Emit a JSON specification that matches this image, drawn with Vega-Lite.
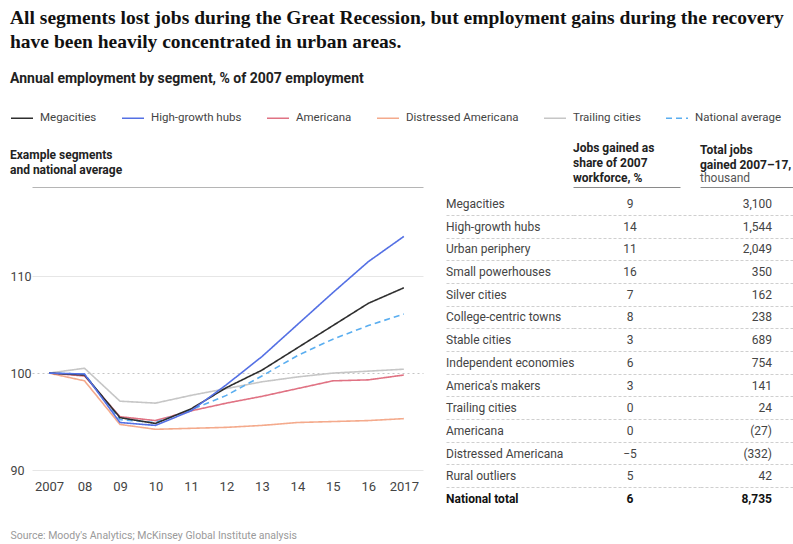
{
  "$schema": "https://vega.github.io/schema/vega-lite/v6.json",
  "padding": {"left": 10, "top": 7, "right": 0, "bottom": 2},
  "background": "white",
  "config": {"font": "Roboto", "view": {"stroke": null}},
  "title": {
    "text": ["All segments lost jobs during the Great Recession, but employment gains during the recovery", "have been heavily concentrated in urban areas."],
    "subtitle": "Annual employment by segment, % of 2007 employment",
    "anchor": "start",
    "font": "Liberation Serif",
    "fontSize": 19.5,
    "fontWeight": "bold",
    "color": "#111111",
    "lineHeight": 24,
    "subtitleFont": "Roboto",
    "subtitleFontSize": 14,
    "subtitleFontWeight": "bold",
    "subtitleColor": "#222222",
    "subtitlePadding": 20,
    "offset": 19
  },
  "datasets": {
    "lines": [
      {"segment": "Trailing cities", "year": 2007, "value": 100},
      {"segment": "Trailing cities", "year": 2008, "value": 100.5},
      {"segment": "Trailing cities", "year": 2009, "value": 97.1},
      {"segment": "Trailing cities", "year": 2010, "value": 96.9},
      {"segment": "Trailing cities", "year": 2011, "value": 97.7},
      {"segment": "Trailing cities", "year": 2012, "value": 98.4},
      {"segment": "Trailing cities", "year": 2013, "value": 99.1},
      {"segment": "Trailing cities", "year": 2014, "value": 99.6},
      {"segment": "Trailing cities", "year": 2015, "value": 100.0},
      {"segment": "Trailing cities", "year": 2016, "value": 100.2},
      {"segment": "Trailing cities", "year": 2017, "value": 100.4},
      {"segment": "Distressed Americana", "year": 2007, "value": 100},
      {"segment": "Distressed Americana", "year": 2008, "value": 99.2},
      {"segment": "Distressed Americana", "year": 2009, "value": 94.7},
      {"segment": "Distressed Americana", "year": 2010, "value": 94.2},
      {"segment": "Distressed Americana", "year": 2011, "value": 94.3},
      {"segment": "Distressed Americana", "year": 2012, "value": 94.4},
      {"segment": "Distressed Americana", "year": 2013, "value": 94.6},
      {"segment": "Distressed Americana", "year": 2014, "value": 94.9},
      {"segment": "Distressed Americana", "year": 2015, "value": 95.0},
      {"segment": "Distressed Americana", "year": 2016, "value": 95.1},
      {"segment": "Distressed Americana", "year": 2017, "value": 95.3},
      {"segment": "Americana", "year": 2007, "value": 100},
      {"segment": "Americana", "year": 2008, "value": 99.7},
      {"segment": "Americana", "year": 2009, "value": 95.5},
      {"segment": "Americana", "year": 2010, "value": 95.1},
      {"segment": "Americana", "year": 2011, "value": 96.1},
      {"segment": "Americana", "year": 2012, "value": 96.9},
      {"segment": "Americana", "year": 2013, "value": 97.6},
      {"segment": "Americana", "year": 2014, "value": 98.4},
      {"segment": "Americana", "year": 2015, "value": 99.2},
      {"segment": "Americana", "year": 2016, "value": 99.3},
      {"segment": "Americana", "year": 2017, "value": 99.8},
      {"segment": "National average", "year": 2007, "value": 100},
      {"segment": "National average", "year": 2008, "value": 99.9},
      {"segment": "National average", "year": 2009, "value": 95.2},
      {"segment": "National average", "year": 2010, "value": 94.9},
      {"segment": "National average", "year": 2011, "value": 96.2},
      {"segment": "National average", "year": 2012, "value": 97.7},
      {"segment": "National average", "year": 2013, "value": 99.7},
      {"segment": "National average", "year": 2014, "value": 101.8},
      {"segment": "National average", "year": 2015, "value": 103.5},
      {"segment": "National average", "year": 2016, "value": 104.9},
      {"segment": "National average", "year": 2017, "value": 106.1},
      {"segment": "Megacities", "year": 2007, "value": 100},
      {"segment": "Megacities", "year": 2008, "value": 99.8},
      {"segment": "Megacities", "year": 2009, "value": 95.4},
      {"segment": "Megacities", "year": 2010, "value": 94.8},
      {"segment": "Megacities", "year": 2011, "value": 96.3},
      {"segment": "Megacities", "year": 2012, "value": 98.5},
      {"segment": "Megacities", "year": 2013, "value": 100.3},
      {"segment": "Megacities", "year": 2014, "value": 102.6},
      {"segment": "Megacities", "year": 2015, "value": 104.9},
      {"segment": "Megacities", "year": 2016, "value": 107.2},
      {"segment": "Megacities", "year": 2017, "value": 108.8},
      {"segment": "High-growth hubs", "year": 2007, "value": 100},
      {"segment": "High-growth hubs", "year": 2008, "value": 99.9},
      {"segment": "High-growth hubs", "year": 2009, "value": 94.9},
      {"segment": "High-growth hubs", "year": 2010, "value": 94.6},
      {"segment": "High-growth hubs", "year": 2011, "value": 96.1},
      {"segment": "High-growth hubs", "year": 2012, "value": 98.8},
      {"segment": "High-growth hubs", "year": 2013, "value": 101.7},
      {"segment": "High-growth hubs", "year": 2014, "value": 105.0},
      {"segment": "High-growth hubs", "year": 2015, "value": 108.3},
      {"segment": "High-growth hubs", "year": 2016, "value": 111.5},
      {"segment": "High-growth hubs", "year": 2017, "value": 114.1}
    ],
    "table": [
      {"segment": "Megacities", "share": 9, "total": 3100},
      {"segment": "High-growth hubs", "share": 14, "total": 1544},
      {"segment": "Urban periphery", "share": 11, "total": 2049},
      {"segment": "Small powerhouses", "share": 16, "total": 350},
      {"segment": "Silver cities", "share": 7, "total": 162},
      {"segment": "College-centric towns", "share": 8, "total": 238},
      {"segment": "Stable cities", "share": 3, "total": 689},
      {"segment": "Independent economies", "share": 6, "total": 754},
      {"segment": "America's makers", "share": 3, "total": 141},
      {"segment": "Trailing cities", "share": 0, "total": 24},
      {"segment": "Americana", "share": 0, "total": -27},
      {"segment": "Distressed Americana", "share": -5, "total": -332},
      {"segment": "Rural outliers", "share": 5, "total": 42},
      {"segment": "National total", "share": 6, "total": 8735}
    ]
  },
  "bounds": "flush",
  "spacing": 23,
  "hconcat": [
    {
      "width": 391,
      "height": 283,
      "title": {"text": ["Example segments", "and national average"], "anchor": "start", "fontSize": 12, "fontWeight": "bold", "color": "#222222", "lineHeight": 15, "offset": 10},
      "data": {"name": "lines"},
      "mark": {"type": "line", "strokeWidth": 1.6},
      "encoding": {
        "x": {
          "field": "year", "type": "quantitative",
          "scale": {"domain": [2006.52, 2017.54], "nice": false, "zero": false},
          "axis": {
            "values": [2007, 2008, 2009, 2010, 2011, 2012, 2013, 2014, 2015, 2016, 2017],
            "format": "d",
            "labelExpr": "(datum.value == 2007 || datum.value == 2017) ? datum.label : substring(datum.label, 2)",
            "domain": false, "ticks": false, "grid": false,
            "labelFontSize": 13, "labelColor": "#444444", "labelPadding": 10, "labelFlush": false, "labelOverlap": false,
            "title": "Source: Moody's Analytics; McKinsey Global Institute analysis",
            "titleAnchor": "start", "titleAlign": "left", "titleX": -22, "titleY": 65, "titleBaseline": "middle",
            "titleFontSize": 10.5, "titleFontWeight": "normal", "titleColor": "#9a9a9a"
          }
        },
        "y": {
          "field": "value", "type": "quantitative",
          "scale": {"domain": [90, 119.2], "nice": false, "zero": false},
          "axis": {
            "values": [90, 100, 110, 119.2],
            "format": "d",
            "labelExpr": "datum.value > 115 ? '' : datum.label",
            "domain": false, "ticks": false, "title": null,
            "labelFontSize": 12.5, "labelColor": "#444444", "labelPadding": 22, "labelAlign": "left",
            "grid": true, "gridWidth": 1,
            "gridColor": {"condition": [{"test": "datum.value > 115", "value": "#b5b5b5"}, {"test": "datum.value === 100", "value": "#c4c4c4"}], "value": "#e6e6e6"},
            "gridDash": {"condition": {"test": "datum.value === 100", "value": [2, 3]}, "value": []}
          }
        },
        "color": {
          "field": "segment", "type": "nominal",
          "scale": {
            "domain": ["Megacities", "High-growth hubs", "Americana", "Distressed Americana", "Trailing cities", "National average"],
            "range": ["#2e2e2e", "#5470e4", "#e07283", "#f4aa8c", "#c6c6c6", "#5aaef0"]
          },
          "legend": {
            "orient": "none", "legendX": -22, "legendY": -81, "direction": "horizontal", "columns": 6, "padding": 0,
            "title": null, "symbolType": "stroke", "symbolSize": 484, "symbolStrokeWidth": 1.6,
            "labelFontSize": 11.5, "labelColor": "#444444", "labelOffset": 6, "columnPadding": 21, "labelLimit": 0
          }
        },
        "strokeDash": {
          "field": "segment", "type": "nominal",
          "scale": {
            "domain": ["Megacities", "High-growth hubs", "Americana", "Distressed Americana", "Trailing cities", "National average"],
            "range": [[1, 0], [1, 0], [1, 0], [1, 0], [1, 0], [6, 4]]
          }
        }
      }
    },
    {
      "bounds": "flush",
      "spacing": 0,
      "hconcat": [
        {
          "width": 127,
          "height": 329,
          "data": {"name": "table"},
          "layer": [
            {
              "transform": [{"filter": "datum.segment !== 'National total'"}],
              "mark": {"type": "text", "align": "left", "fontSize": 12, "color": "#444444"},
              "encoding": {
                "x": {"datum": "name", "type": "nominal", "scale": {"type": "point", "align": 0}, "axis": null},
                "y": {
                  "field": "segment", "type": "nominal",
                  "scale": {"type": "band", "domain": ["Megacities", "High-growth hubs", "Urban periphery", "Small powerhouses", "Silver cities", "College-centric towns", "Stable cities", "Independent economies", "America's makers", "Trailing cities", "Americana", "Distressed Americana", "Rural outliers", "National total"], "paddingInner": 0, "paddingOuter": 0.25},
                  "axis": {"labels": false, "ticks": false, "domain": false, "title": null, "grid": true, "bandPosition": 1, "gridColor": "#cfcfcf", "gridDash": [3, 2], "gridOpacity": {"condition": {"test": "datum.value === 'National total'", "value": 0}, "value": 1}}
                },
                "text": {"field": "segment", "type": "nominal"}
              }
            },
            {
              "transform": [{"filter": "datum.segment === 'National total'"}],
              "mark": {"type": "text", "align": "left", "fontSize": 12, "fontWeight": "bold", "color": "#111111"},
              "encoding": {
                "x": {"datum": "name", "type": "nominal", "scale": {"type": "point", "align": 0}, "axis": null},
                "y": {"field": "segment", "type": "nominal"},
                "text": {"field": "segment", "type": "nominal"}
              }
            }
          ]
        },
        {
          "width": 127,
          "height": 329,
          "title": {"text": ["Jobs gained as", "share of 2007", "workforce, %"], "anchor": "start", "fontSize": 12, "fontWeight": "bold", "color": "#222222", "lineHeight": 15, "offset": 2},
          "data": {"name": "table"},
          "layer": [
            {
              "transform": [{"filter": "datum.segment !== 'National total'"}],
              "mark": {"type": "text", "align": "center", "fontSize": 12, "color": "#444444"},
              "encoding": {
                "x": {"datum": "share", "type": "nominal", "scale": {"type": "point", "align": 0.449}, "axis": {"orient": "top", "labels": false, "ticks": false, "domain": true, "domainColor": "#8a8a8a", "domainDash": [107, 40], "title": null, "grid": false}},
                "y": {
                  "field": "segment", "type": "nominal",
                  "scale": {"type": "band", "domain": ["Megacities", "High-growth hubs", "Urban periphery", "Small powerhouses", "Silver cities", "College-centric towns", "Stable cities", "Independent economies", "America's makers", "Trailing cities", "Americana", "Distressed Americana", "Rural outliers", "National total"], "paddingInner": 0, "paddingOuter": 0.25},
                  "axis": {"labels": false, "ticks": false, "domain": false, "title": null, "grid": true, "bandPosition": 1, "gridColor": "#cfcfcf", "gridDash": [3, 2], "gridOpacity": {"condition": {"test": "datum.value === 'National total'", "value": 0}, "value": 1}}
                },
                "text": {"field": "share", "type": "quantitative", "format": "d"}
              }
            },
            {
              "transform": [{"filter": "datum.segment === 'National total'"}],
              "mark": {"type": "text", "align": "center", "fontSize": 12, "fontWeight": "bold", "color": "#111111"},
              "encoding": {
                "x": {"datum": "share", "type": "nominal"},
                "y": {"field": "segment", "type": "nominal"},
                "text": {"field": "share", "type": "quantitative", "format": "d"}
              }
            }
          ]
        },
        {
          "width": 93,
          "height": 329,
          "title": {"text": ["Total jobs", "gained 2007–17,"], "subtitle": "thousand", "anchor": "start", "fontSize": 12, "fontWeight": "bold", "color": "#222222", "lineHeight": 15, "subtitleFontSize": 12, "subtitleFontWeight": "normal", "subtitleColor": "#555555", "subtitlePadding": 1, "offset": 2},
          "data": {"name": "table"},
          "layer": [
            {
              "transform": [{"filter": "datum.segment !== 'National total'"}],
              "mark": {"type": "text", "align": "right", "fontSize": 12, "color": "#444444"},
              "encoding": {
                "x": {"datum": "total", "type": "nominal", "scale": {"type": "point", "align": 0.774}, "axis": {"orient": "top", "labels": false, "ticks": false, "domain": true, "domainColor": "#8a8a8a", "title": null, "grid": false}},
                "y": {
                  "field": "segment", "type": "nominal",
                  "scale": {"type": "band", "domain": ["Megacities", "High-growth hubs", "Urban periphery", "Small powerhouses", "Silver cities", "College-centric towns", "Stable cities", "Independent economies", "America's makers", "Trailing cities", "Americana", "Distressed Americana", "Rural outliers", "National total"], "paddingInner": 0, "paddingOuter": 0.25},
                  "axis": {"labels": false, "ticks": false, "domain": false, "title": null, "grid": true, "bandPosition": 1, "gridColor": "#cfcfcf", "gridDash": [3, 2], "gridOpacity": {"condition": {"test": "datum.value === 'National total'", "value": 0}, "value": 1}}
                },
                "text": {"field": "total", "type": "quantitative", "format": "(,d"}
              }
            },
            {
              "transform": [{"filter": "datum.segment === 'National total'"}],
              "mark": {"type": "text", "align": "right", "fontSize": 12, "fontWeight": "bold", "color": "#111111"},
              "encoding": {
                "x": {"datum": "total", "type": "nominal"},
                "y": {"field": "segment", "type": "nominal"},
                "text": {"field": "total", "type": "quantitative", "format": "(,d"}
              }
            }
          ]
        }
      ]
    }
  ]
}
